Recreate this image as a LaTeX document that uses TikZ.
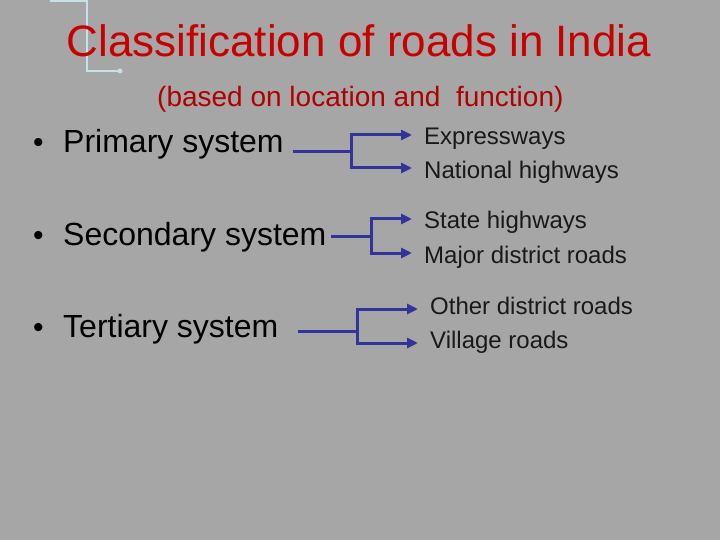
\documentclass[tikz,border=0pt]{standalone}
\usepackage{fontspec}
\setmainfont{Liberation Sans}
\usetikzlibrary{arrows.meta}
\definecolor{slidegray}{RGB}{166,166,166}
\definecolor{titlered}{RGB}{200,0,0}
\definecolor{subred}{RGB}{176,0,0}
\definecolor{linkblue}{RGB}{51,51,153}
\definecolor{decoblue}{RGB}{200,224,230}
\tikzset{
  sysnode/.style={anchor=base west,inner sep=0pt,font=\fontsize{32}{38}\selectfont},
  itemnode/.style={anchor=base west,inner sep=0pt,text=black!90,font=\fontsize{24}{29}\selectfont},
  branch/.style={linkblue,line width=3pt,-{Triangle[length=11pt,width=10pt]}},
  stem/.style={linkblue,line width=3pt}
}
\newcommand{\sysbullet}{\makebox[35pt][l]{\hspace*{5pt}\fontsize{30}{36}\selectfont\textbullet}}
\begin{document}
\begin{tikzpicture}[x=1pt,y=-1pt]
% Sfondo
\fill[slidegray] (0,0) rectangle (720,540);
\useasboundingbox (0,0) rectangle (720,540);

% Linea decorativa
\draw[decoblue,line width=1.5pt] (50,1) -- (87,1) -- (87,71) -- (119,71);
\fill[decoblue] (120,71) circle (2.5pt);

% Titolo
\node[anchor=base,inner sep=0pt,text=titlered,font=\fontsize{44}{53}\selectfont] (title) at (359,57) {Classification of roads in India};
\node[anchor=base west,inner sep=0pt,text=subred,font=\fontsize{28}{34}\selectfont] (subtitle) at (157,107) {(based on location and\ \ function)};

% Sistemi
\node[sysnode] (prim) at (28,153) {\sysbullet Primary system};
\node[sysnode] (sec) at (28,245) {\sysbullet Secondary system};
\node[sysnode] (ter) at (28,337) {\sysbullet Tertiary system};

% Strade
\node[itemnode] (expr) at (424,145) {Expressways};
\node[itemnode] (nath) at (424,179) {National highways};
\node[itemnode] (stah) at (424,229) {State highways};
\node[itemnode] (majd) at (424,263) {Major district roads};
\node[itemnode] (othd) at (430,314) {Other district roads};
\node[itemnode] (vill) at (430,348) {Village roads};

% Punti delle frecce
\coordinate (p0) at (293,152); \coordinate (p1) at (351,152);
\coordinate (s0) at (331,236); \coordinate (s1) at (371,236);
\coordinate (t0) at (298,331); \coordinate (t1) at (357,331);
\coordinate (pe) at (412,135); \coordinate (pn) at (412,168);
\coordinate (se) at (412,219); \coordinate (sm) at (412,253);
\coordinate (te) at (418,309); \coordinate (tv) at (418,343);

% Frecce
\draw[stem] (p0) -- (p1);
\draw[branch] (p1) |- (pe);
\draw[branch] (p1) |- (pn);
\draw[stem] (s0) -- (s1);
\draw[branch] (s1) |- (se);
\draw[branch] (s1) |- (sm);
\draw[stem] (t0) -- (t1);
\draw[branch] (t1) |- (te);
\draw[branch] (t1) |- (tv);
\end{tikzpicture}
\end{document}
